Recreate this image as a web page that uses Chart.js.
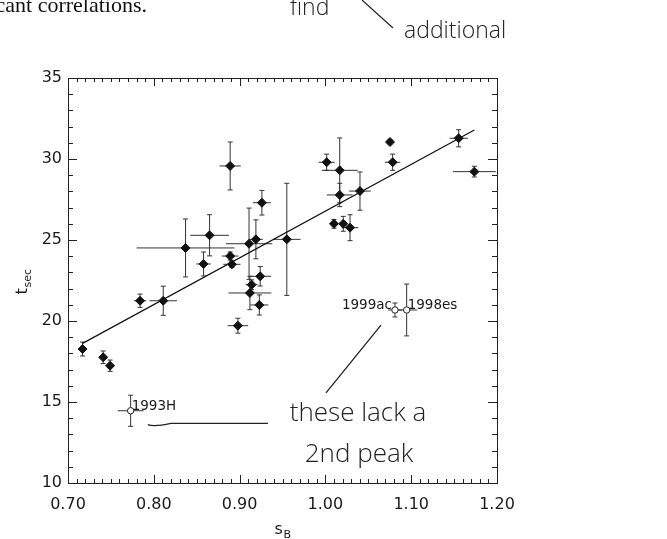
<!DOCTYPE html>
<html>
<head>
<meta charset="utf-8">
<script src="https://cdn.jsdelivr.net/npm/chart.js@4/dist/chart.umd.min.js"></script>
<style>
html,body{margin:0;padding:0;background:#fff;}
#wrap{width:667px;height:539px;position:relative;}
</style>
</head>
<body>
<div id="wrap"><canvas id="c" width="667" height="539"></canvas></div>
<script>
// ---- data ----
const sB      = [0.717,0.741,0.749,0.784,0.811,0.837,0.858,0.865,0.889,0.889,0.891,0.898,0.911,0.912,0.914,0.919,0.923,0.924,0.926,0.955,1.0015,1.0167,1.0167,1.0403,1.010,1.0208,1.0287,1.0753,1.0784,1.1553,1.1736];
const tSec    = [18.27,17.76,17.24,21.25,21.25,24.51,23.52,25.29,29.57,24.01,23.50,19.71,24.77,21.73,22.24,25.04,20.99,22.76,27.30,25.04,29.80,29.30,27.78,28.02,26.00,26.00,25.76,31.05,29.80,31.28,29.22];
const sBErr   = [0.004,0.004,0.003,0.007,0.016,0.057,0.0085,0.0225,0.0124,0.0097,0.010,0.012,0.027,0.025,0.007,0.008,0.0105,0.0126,0.0105,0.016,0.0093,0.021,0.015,0.0126,0.004,0.004,0.0097,0.003,0.009,0.0107,0.025];
const tSecErr = [0.43,0.39,0.35,0.41,0.90,1.79,0.74,1.27,1.48,0.25,0.20,0.46,2.20,1.03,0.30,1.20,0.62,0.60,0.76,3.46,0.50,2.00,0.72,1.18,0.27,0.46,0.80,0.12,0.50,0.53,0.33];

const openNames = ['1993H','1999ac','1998es'];
const openSB    = [0.773,1.0811,1.0947];
const openT     = [14.46,20.68,20.68];
const openSBErr = [0.015,0.008,0.012];
const openTErr  = [0.96,0.43,1.60];

const fitSB = [0.717,1.1736];
const fitT  = [18.62,31.79];

const xTickLabels = ['0.70','0.80','0.90','1.00','1.10','1.20'];
const yTickLabels = ['10','15','20','25','30','35'];

// ---- plugins ----
const INK = '#1a1a1a';
const errorBars = {
  id:'errorBars',
  beforeDatasetsDraw(chart){
    const {ctx, scales:{x,y}} = chart;
    ctx.save();
    ctx.strokeStyle = '#333';
    ctx.lineWidth = 1;
    chart.data.datasets.forEach(ds=>{
      if(!ds.errX) return;
      ds.data.forEach((p,i)=>{
        const px = x.getPixelForValue(p.x), py = y.getPixelForValue(p.y);
        const x1 = x.getPixelForValue(p.x-ds.errX[i]), x2 = x.getPixelForValue(p.x+ds.errX[i]);
        const y1 = y.getPixelForValue(p.y-ds.errY[i]), y2 = y.getPixelForValue(p.y+ds.errY[i]);
        ctx.beginPath();
        ctx.moveTo(x1,py); ctx.lineTo(x2,py);
        ctx.moveTo(px,y1); ctx.lineTo(px,y2);
        ctx.moveTo(px-2.5,y1); ctx.lineTo(px+2.5,y1);
        ctx.moveTo(px-2.5,y2); ctx.lineTo(px+2.5,y2);
        ctx.stroke();
      });
    });
    ctx.restore();
  }
};

const frameTicks = {
  id:'frameTicks',
  afterDraw(chart){
    const {ctx, chartArea:a, scales:{x,y}} = chart;
    ctx.save();
    ctx.strokeStyle = '#222';
    ctx.lineWidth = 1;
    ctx.strokeRect(a.left+0.5, a.top+0.5, a.right-a.left, a.bottom-a.top);
    ctx.beginPath();
    for(let i=0;i<=50;i++){
      const v = x.min + i*0.01;
      const px = Math.round(x.getPixelForValue(v))+0.5;
      const L = (i%10===0)?8:4;
      ctx.moveTo(px,a.bottom); ctx.lineTo(px,a.bottom-L);
      ctx.moveTo(px,a.top); ctx.lineTo(px,a.top+L);
    }
    for(let i=0;i<=25;i++){
      const v = y.min + i;
      const py = Math.round(y.getPixelForValue(v))+0.5;
      const L = (i%5===0)?9:5;
      ctx.moveTo(a.left,py); ctx.lineTo(a.left+L,py);
      ctx.moveTo(a.right,py); ctx.lineTo(a.right-L,py);
    }
    ctx.stroke();

    // axis titles with subscripts
    ctx.fillStyle = INK;
    const cx = (a.left+a.right)/2;
    ctx.font = '16px "DejaVu Sans"';
    ctx.textBaseline = 'alphabetic';
    ctx.textAlign = 'left';
    ctx.fillText('s', cx-8, 534);
    ctx.font = '11px "DejaVu Sans"';
    ctx.fillText('B', cx+1, 538);

    ctx.save();
    ctx.translate(27, (a.top+a.bottom)/2 + 14);
    ctx.rotate(-Math.PI/2);
    ctx.font = '16px "DejaVu Sans"';
    ctx.fillText('t', 0, 0);
    ctx.font = '11px "DejaVu Sans"';
    ctx.fillText('sec', 7, 4);
    ctx.restore();

    // labels on open points
    const ods = chart.data.datasets[1];
    ctx.font = '13.5px "DejaVu Sans"';
    ctx.textBaseline = 'middle';
    ods.data.forEach((p,i)=>{
      const px = x.getPixelForValue(p.x), py = y.getPixelForValue(p.y);
      if(ods.names[i]==='1999ac'){ ctx.textAlign='right'; ctx.fillText(ods.names[i], px-3, py-4); }
      else { ctx.textAlign='left'; ctx.fillText(ods.names[i], px+1, py-4); }
    });

    // handwritten-style annotations
    ctx.strokeStyle = '#222';
    ctx.lineWidth = 1.3;
    ctx.beginPath();
    ctx.moveTo(x.getPixelForValue(0.793), y.getPixelForValue(13.60));
    ctx.quadraticCurveTo(x.getPixelForValue(0.80), y.getPixelForValue(13.45), x.getPixelForValue(0.82), y.getPixelForValue(13.68));
    ctx.lineTo(x.getPixelForValue(0.933), y.getPixelForValue(13.68));
    ctx.moveTo(x.getPixelForValue(1.0007), y.getPixelForValue(15.56));
    ctx.lineTo(x.getPixelForValue(1.0648), y.getPixelForValue(19.75));
    ctx.stroke();
    ctx.fillStyle = '#222';
    ctx.font = '300 26px "Open Sans"';
    ctx.textAlign = 'center';
    ctx.textBaseline = 'middle';
    ctx.fillText('these lack a', 358, 414);
    ctx.fillText('2nd peak', 359, 455);
    ctx.restore();

    // text above the figure
    ctx.save();
    ctx.fillStyle = '#111';
    ctx.font = '22px "Liberation Serif"';
    ctx.textAlign = 'right';
    ctx.textBaseline = 'alphabetic';
    ctx.fillText('significant correlations.', 147, 12);
    ctx.fillStyle = '#222';
    ctx.font = '300 23px "Open Sans"';
    ctx.textAlign = 'left';
    ctx.fillText('find', 290, 15);
    ctx.fillText('additional', 404, 38);
    ctx.strokeStyle = '#222';
    ctx.lineWidth = 1.2;
    ctx.beginPath();
    ctx.moveTo(362,0); ctx.lineTo(393,28);
    ctx.stroke();
    ctx.restore();
  }
};

// ---- chart ----
new Chart(document.getElementById('c'), {
  type:'scatter',
  data:{
    datasets:[
      {
        label:'SNe',
        data: sB.map((v,i)=>({x:v, y:tSec[i]})),
        errX: sBErr, errY: tSecErr,
        pointStyle:'rectRot', pointRadius:4.5,
        backgroundColor:'#111', borderColor:'#111', borderWidth:1
      },
      {
        label:'no 2nd peak',
        data: openSB.map((v,i)=>({x:v, y:openT[i]})),
        errX: openSBErr, errY: openTErr, names: openNames,
        pointStyle:'circle', pointRadius:3.2,
        backgroundColor:'#fff', borderColor:'#222', borderWidth:1
      },
      {
        type:'line',
        label:'fit',
        data: fitSB.map((v,i)=>({x:v, y:fitT[i]})),
        borderColor:'#111', borderWidth:1.2, pointRadius:0, fill:false
      }
    ]
  },
  options:{
    responsive:false,
    animation:false,
    events:[],
    layout:{padding:{left:0, top:78, right:170, bottom:0}},
    plugins:{legend:{display:false}, tooltip:{enabled:false}},
    scales:{
      x:{
        type:'linear', min:0.7, max:1.2,
        grid:{display:false, drawTicks:false},
        border:{display:false},
        afterFit(s){ s.height = 56; },
        afterBuildTicks(s){ s.ticks = xTickLabels.map(t=>({value:parseFloat(t)})); },
        ticks:{
          padding:12, color:INK, maxRotation:0, autoSkip:false,
          font:{family:'"DejaVu Sans"', size:16},
          callback:(v)=>{ const i = xTickLabels.findIndex(t=>Math.abs(parseFloat(t)-v)<1e-6); return i>=0?xTickLabels[i]:''; }
        }
      },
      y:{
        type:'linear', min:10, max:35,
        grid:{display:false, drawTicks:false},
        border:{display:false},
        afterFit(s){ s.width = 68; },
        afterBuildTicks(s){ s.ticks = yTickLabels.map(t=>({value:parseFloat(t)})); },
        ticks:{
          padding:6, color:INK, autoSkip:false,
          font:{family:'"DejaVu Sans"', size:16},
          callback:(v)=>{ const i = yTickLabels.findIndex(t=>Math.abs(parseFloat(t)-v)<1e-6); return i>=0?yTickLabels[i]:''; }
        }
      }
    }
  },
  plugins:[errorBars, frameTicks]
});
</script>
</body>
</html>
